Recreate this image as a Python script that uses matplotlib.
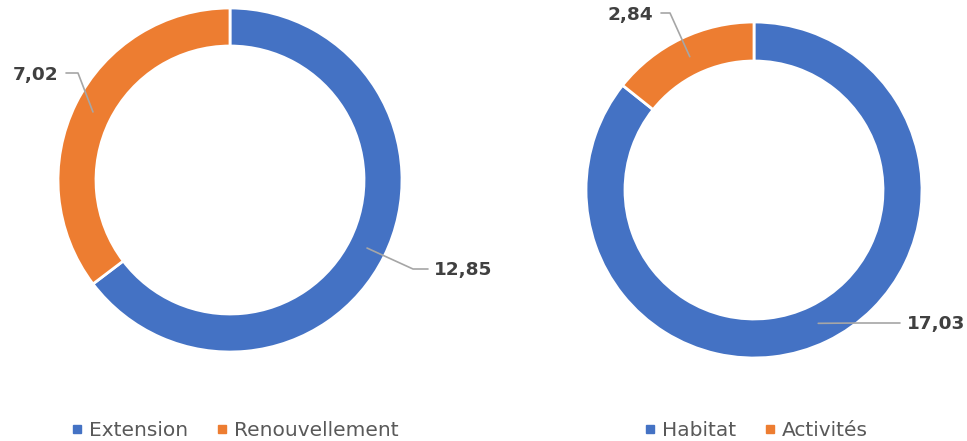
import numpy as np
import matplotlib
matplotlib.use("Agg")
import matplotlib.pyplot as plt
from matplotlib.lines import Line2D

# ---- data ----
left_labels = ["Extension", "Renouvellement"]
left_values = [12.85, 7.02]
right_labels = ["Habitat", "Activités"]
right_values = [17.03, 2.84]
colors = ["#4472C4", "#ED7D31"]

W, H = 967, 441
fig = plt.figure(figsize=(W / 100, H / 100), dpi=100)
ax = fig.add_axes([0, 0, 1, 1])


def P(y):
    return H - y


FONT = "DejaVu Sans"
label_col = "#404040"
line_col = "#A6A6A6"


def donut(values, center, r_out, width):
    wedges, _ = ax.pie(values, colors=colors, startangle=90, counterclock=False,
                       radius=r_out, center=center, frame=True,
                       wedgeprops=dict(width=width, edgecolor="white", linewidth=2))
    return wedges


def mid_point(w, center, r):
    th = np.deg2rad((w.theta1 + w.theta2) / 2)
    return center[0] + r * np.cos(th), center[1] + r * np.sin(th)


# left donut
cL = (230, P(180))
wL = donut(left_values, cL, 172, 38)
# right donut
cR = (754, P(190))
wR = donut(right_values, cR, 168, 39)

ax.set_xlim(0, W)
ax.set_ylim(0, H)
ax.set_aspect("equal")
ax.axis("off")


def fmt(v):
    return f"{v:.2f}".replace(".", ",")


def leader(w, center, rmid, elbow, end, text_xy, ha, value):
    ax_, ay_ = mid_point(w, center, rmid)
    ax.plot([ax_, elbow[0], end[0]], [ay_, P(elbow[1]), P(end[1])],
            color=line_col, lw=1.2, solid_capstyle="round")
    ax.text(text_xy[0], P(text_xy[1]), fmt(value), ha=ha, va="center",
            fontsize=13.3, fontweight="bold", color=label_col, family=FONT)


# Left labels
leader(wL[0], cL, 153, (413, 269), (428, 269), (434, 270), "left", left_values[0])
leader(wL[1], cL, 153, (78, 73), (66, 73), (58, 75), "right", left_values[1])
# Right labels
leader(wR[0], cR, 148, (860, 323), (900, 323), (907, 324), "left", right_values[0])
leader(wR[1], cR, 148, (670, 13), (661, 13), (653, 15), "right", right_values[1])


def legend(labels, xc):
    handles = [Line2D([], [], marker="s", linestyle="none", markersize=6,
                      markerfacecolor=c, markeredgecolor=c) for c in colors]
    leg = ax.legend(handles, labels, loc="center", ncol=2, frameon=False,
                    bbox_to_anchor=(xc / W, 1 - 431 / H), bbox_transform=fig.transFigure,
                    handlelength=0.6, handletextpad=0.3, columnspacing=1.4,
                    prop={"family": FONT, "size": 14.5})
    for t in leg.get_texts():
        t.set_color("#595959")
    return leg


leg1 = legend(left_labels, 235)
ax.add_artist(leg1)
legend(right_labels, 756)

fig.savefig("out.png", dpi=100, facecolor="white")
